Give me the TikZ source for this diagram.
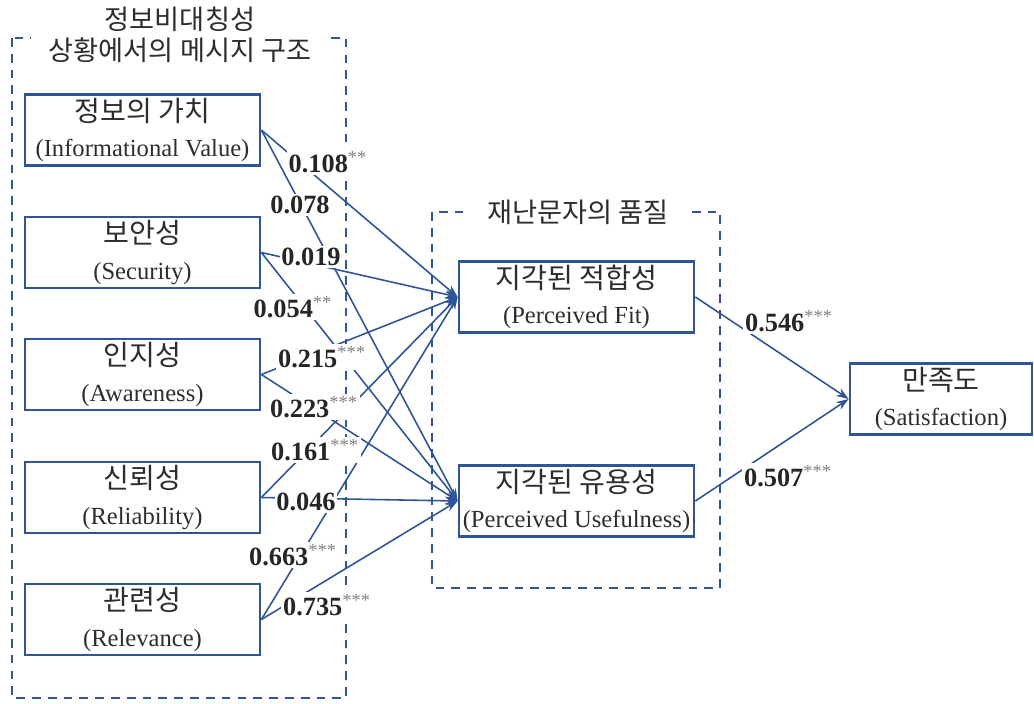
\documentclass[tikz,border=0pt]{standalone}
\usepackage{fontspec}
\setmainfont{Liberation Serif}
\newfontfamily\kr{Noto Sans CJK KR}
\usetikzlibrary{arrows.meta}
\definecolor{boxblue}{RGB}{47,85,151}
\definecolor{txtgray}{RGB}{45,45,45}
\tikzset{
  box/.style={draw=boxblue, line width=1.6pt, minimum width=4.7cm, minimum height=1.42cm, inner xsep=2pt, inner ysep=0pt, align=center, font=\fontsize{14}{20}\selectfont, text=txtgray},
  grp/.style={draw=boxblue, line width=1.3pt, dash pattern=on 5pt off 4pt},
  link/.style={->, draw=boxblue, line width=0.9pt},
  coef/.style={fill=white, inner sep=1pt, font=\fontsize{15}{15}\selectfont\bfseries, text=black!85},
  grptitle/.style={fill=white, inner xsep=10pt, align=center, font=\kr\fontsize{15.5}{18}\selectfont, text=txtgray}
}
\newcommand{\coefval}[2]{#1\textsuperscript{\mdseries\color{gray}#2}}
\newcommand{\krlbl}[1]{{\kr\fontsize{16}{20}\selectfont #1}}

\begin{document}
\begin{tikzpicture}[x=0.02cm, y=-0.02cm, >={Stealth[length=7pt,width=5pt]}]
	\useasboundingbox (0,0) rectangle (1034,703);

	% Grupos
	\draw[grp] (12,38) rectangle (346,698);
	\draw[grp] (432,212) rectangle (720,588);

	% Caixas da esquerda
	\node[box] (iv) at (142.5,130) {\krlbl{정보의 가치}\\(Informational Value)};
	\node[box] (se) at (142.5,252.5) {\krlbl{보안성}\\(Security)};
	\node[box] (aw) at (142.5,374.5) {\krlbl{인지성}\\(Awareness)};
	\node[box] (re) at (142.5,497.5) {\krlbl{신뢰성}\\(Reliability)};
	\node[box] (rv) at (142.5,619.5) {\krlbl{관련성}\\(Relevance)};

	% Caixas do meio e da direita
	\node[box] (pf) at (576.5,297) {\krlbl{지각된 적합성}\\(Perceived Fit)};
	\node[box] (pu) at (576.5,501) {\krlbl{지각된 유용성}\\(Perceived Usefulness)};
	\node[box, minimum width=3.64cm] (sat) at (941,399) {\krlbl{만족도}\\(Satisfaction)};

	% Setas
	\draw[link] (iv.east) -- (pf.west);
	\draw[link] (iv.east) -- (pu.west);
	\draw[link] (se.east) -- (pf.west);
	\draw[link] (se.east) -- (pu.west);
	\draw[link] (aw.east) -- (pf.west);
	\draw[link] (aw.east) -- (pu.west);
	\draw[link] (re.east) -- (pf.west);
	\draw[link] (re.east) -- (pu.west);
	\draw[link] (rv.east) -- (pf.west);
	\draw[link] (rv.east) -- (pu.west);
	\draw[link] (pf.east) -- (sat.west);
	\draw[link] (pu.east) -- (sat.west);

	% Coeficientes
	\node[coef] (c1) at (328,162) {\coefval{0.108}{**}};
	\node[coef] (c2) at (300,205) {0.078};
	\node[coef] (c3) at (311,257) {0.019};
	\node[coef] (c4) at (293,307) {\coefval{0.054}{**}};
	\node[coef] (c5) at (322,357) {\coefval{0.215}{***}};
	\node[coef] (c6) at (314,407) {\coefval{0.223}{***}};
	\node[coef] (c7) at (315,450) {\coefval{0.161}{***}};
	\node[coef] (c8) at (306,502) {0.046};
	\node[coef] (c9) at (293,555) {\coefval{0.663}{***}};
	\node[coef] (c10) at (327,605) {\coefval{0.735}{***}};
	\node[coef] (c11) at (789,321) {\coefval{0.546}{***}};
	\node[coef] (c12) at (788,476) {\coefval{0.507}{***}};

	% Titulos dos grupos
	\node[grptitle] (t1) at (180,35) {정보비대칭성\\상황에서의 메시지 구조};
	\node[grptitle] (t2) at (578,212) {재난문자의 품질};
\end{tikzpicture}
\end{document}
